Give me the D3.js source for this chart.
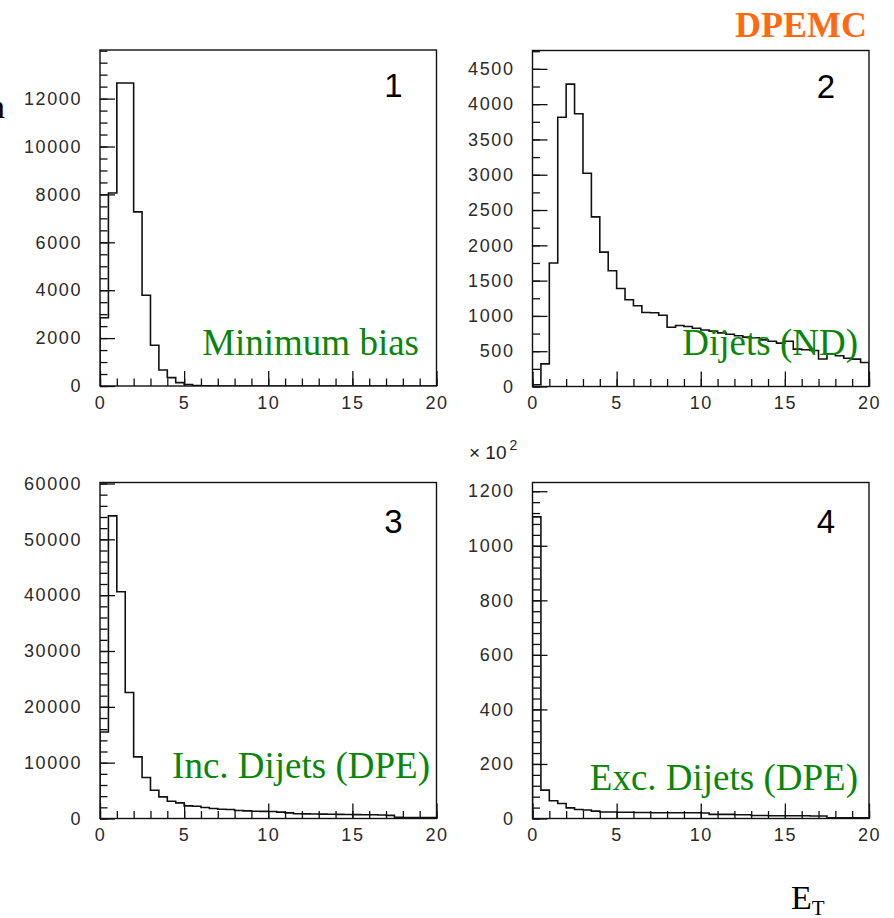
<!DOCTYPE html>
<html>
<head>
<meta charset="utf-8">
<script src="https://cdn.jsdelivr.net/npm/d3@7"></script>
<style>
  body { margin: 0; background: #fff; }
  svg { display: block; }
  .tick text { font-family: "Liberation Sans", Arial, sans-serif; font-size: 18px; fill: #2a2a2a; letter-spacing: 1.6px; }
  .tick line { stroke: #111; stroke-width: 1.3; }
</style>
</head>
<body>
<div id="chart"></div>
<script>
// E_T bins of 0.5 from 0 to 20 (40 bins)
const binEdges = d3.range(0, 20.001, 0.5);

const minBias = [2850, 8060, 12650, 12650, 7270, 3790, 1700, 670, 350, 140,
                 60, 20, 8, 3, 0, 0, 0, 0, 0, 0,
                 0, 0, 0, 0, 0, 0, 0, 0, 0, 0,
                 0, 0, 0, 0, 0, 0, 0, 0, 0, 0];

const dijetsND = [25, 320, 1750, 3815, 4283, 3863, 3022, 2403, 1903, 1639,
                  1388, 1228, 1143, 1048, 1045, 1010, 840, 864, 850, 826,
                  800, 785, 760, 740, 720, 700, 690, 660, 640, 615,
                  640, 530, 520, 510, 390, 465, 435, 400, 388, 340];

const incDijets = [15500, 54200, 40600, 22570, 11040, 7340, 5070, 3880, 3100, 2800,
                   2270, 2200, 1970, 1790, 1670, 1610, 1430, 1370, 1310, 1280,
                   1250, 1150, 1000, 860, 820, 800, 780, 760, 740, 720,
                   700, 680, 660, 640, 560, 200, 180, 170, 160, 150];

// panel 4 is in units of 10^2
const excDijets = [1106, 104, 65, 55, 39, 33, 31, 27, 24, 24,
                   23, 23, 22, 22, 21, 21, 21, 21, 21, 21,
                   20, 15, 15, 15, 14, 14, 11, 11, 10, 10,
                   10, 10, 10, 9, 9, 3, 3, 3, 3, 3];

const xTicksMajor = [0, 5, 10, 15, 20];
const panelNumbers = ["1", "2", "3", "4"];
const panelTitles = ["Minimum bias", "Dijets (ND)", "Inc. Dijets (DPE)", "Exc. Dijets (DPE)"];
const yLabelMax = [12000, 4500, 60000, 1200];

const W = 894, H = 918;
const svg = d3.select("#chart").append("svg")
    .attr("width", W)
    .attr("height", H);

// panel layout (pixel positions only)
let panels = [
    {data: minBias,   left: 100,   top: 50,    ymax: 14030, major: 2000,  minor: 500,  titleX: 419, titleY: 355},
    {data: dijetsND,  left: 532.5, top: 50.5,  ymax: 4760,  major: 500,   minor: 250,  titleX: 858, titleY: 355},
    {data: incDijets, left: 100,   top: 482.5, ymax: 60180, major: 10000, minor: 2000, titleX: 430, titleY: 778},
    {data: excDijets, left: 532.5, top: 482.5, ymax: 1232,  major: 200,   minor: 40,   titleX: 858, titleY: 790}
];
const pw = 336.5, ph = 336;

panels.forEach((p, i) => {
    let g = svg.append("g").attr("transform", `translate(${p.left},${p.top})`);

    let x = d3.scaleLinear().domain([0, 20]).range([0, pw]);
    let y = d3.scaleLinear().domain([0, p.ymax]).range([ph, 0]);

    // minor ticks
    g.append("g")
        .attr("transform", `translate(0,${ph})`)
        .call(d3.axisBottom(x).tickValues(d3.range(0, 21, 1)).tickSize(-7.5).tickFormat(""))
        .call(a => a.select(".domain").remove());
    g.append("g")
        .call(d3.axisLeft(y).tickValues(d3.range(0, p.ymax, p.minor)).tickSize(-7.5).tickFormat(""))
        .call(a => a.select(".domain").remove());

    // major ticks with labels
    g.append("g")
        .attr("transform", `translate(0,${ph})`)
        .call(d3.axisBottom(x).tickValues(xTicksMajor).tickSize(-15).tickPadding(10).tickFormat(d3.format("d")))
        .call(a => a.select(".domain").remove());
    g.append("g")
        .call(d3.axisLeft(y).tickValues(d3.range(0, yLabelMax[i] + 1, p.major)).tickSize(-15).tickPadding(18).tickFormat(d3.format("d")))
        .call(a => a.select(".domain").remove());

    // histogram outline
    let clipId = "clip" + i;
    g.append("clipPath").attr("id", clipId)
        .append("rect").attr("width", pw).attr("height", ph);

    let pts = [[0, 0]];
    p.data.forEach((v, j) => pts.push([binEdges[j], v]));
    pts.push([20, p.data[p.data.length - 1]]);
    pts.push([20, 0]);

    let line = d3.line()
        .x(d => x(d[0]))
        .y(d => y(d[1]))
        .curve(d3.curveStepAfter);

    g.append("path")
        .attr("clip-path", `url(#${clipId})`)
        .attr("d", line(pts))
        .attr("fill", "none")
        .attr("stroke", "#111")
        .attr("stroke-width", 1.6);

    // frame
    g.append("rect")
        .attr("width", pw)
        .attr("height", ph)
        .attr("fill", "none")
        .attr("stroke", "#111")
        .attr("stroke-width", 1.4);

    // panel number
    g.append("text")
        .attr("x", pw - 43)
        .attr("y", (i < 2 ? 47 : 50))
        .attr("text-anchor", "middle")
        .style("font-family", "Liberation Sans, Arial, sans-serif")
        .style("font-size", "33px")
        .text(panelNumbers[i]);

    // title
    svg.append("text")
        .attr("x", p.titleX)
        .attr("y", p.titleY)
        .attr("text-anchor", "end")
        .style("font-family", "Liberation Serif, Times New Roman, serif")
        .style("font-size", "37px")
        .style("fill", "#0a850a")
        .text(panelTitles[i]);
});

// exponent label for panel 4
svg.append("text")
    .attr("x", 469)
    .attr("y", 459)
    .style("font-family", "Liberation Sans, Arial, sans-serif")
    .style("font-size", "19px")
    .style("fill", "#222")
    .html('× 10<tspan dy="-9" dx="3" font-size="14px">2</tspan>');

// DPEMC tag
svg.append("text")
    .attr("x", 867)
    .attr("y", 37)
    .attr("text-anchor", "end")
    .style("font-family", "Liberation Serif, Times New Roman, serif")
    .style("font-weight", "bold")
    .style("font-size", "36px")
    .style("fill", "#ff6a10")
    .text("DPEMC");

// y-axis title, partly cut at the left edge as in the original
svg.append("text")
    .attr("x", -12)
    .attr("y", 118)
    .style("font-family", "Liberation Serif, Times New Roman, serif")
    .style("font-size", "34px")
    .text("n");

// x-axis title
svg.append("text")
    .attr("x", 791)
    .attr("y", 909)
    .style("font-family", "Liberation Serif, Times New Roman, serif")
    .style("font-size", "34px")
    .html('E<tspan dy="6" font-size="21px">T</tspan>');
</script>
</body>
</html>
